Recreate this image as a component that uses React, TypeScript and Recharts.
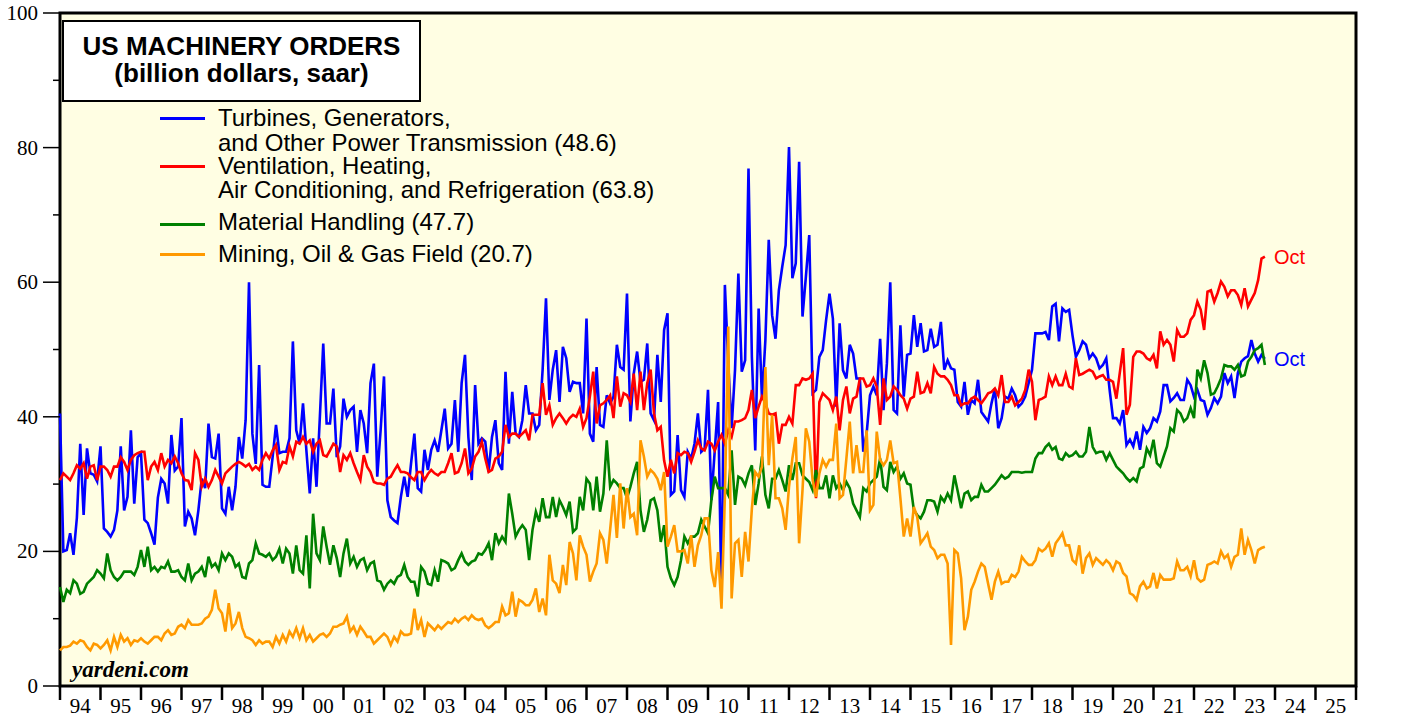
import { LineChart, Line, XAxis, YAxis, CartesianGrid, ReferenceArea, ReferenceDot } from "recharts";

const FIRST_YEAR = 1994;
const AXIS_YEARS = 32; // 1994 .. 2025

// monthly values, Jan 1994 .. Oct 2023, one row per year
const turbines = [
  [40.5, 20.0, 20.2, 22.7, 19.5, 25.0, 36.0, 25.4, 35.3, 31.6, 31.4, 30.4],
  [35.6, 23.4, 22.9, 22.2, 23.2, 26.1, 35.6, 26.1, 28.1, 38.0, 27.1, 34.0],
  [34.6, 24.7, 24.2, 22.7, 21.0, 28.0, 30.8, 30.1, 27.1, 37.3, 32.0, 32.6],
  [39.8, 23.7, 25.9, 24.9, 22.4, 26.1, 30.8, 29.4, 39.0, 34.0, 33.8, 37.5],
  [26.4, 25.6, 29.6, 26.1, 29.6, 37.0, 33.8, 39.5, 60.0, 37.5, 33.0, 47.7],
  [29.9, 29.6, 29.6, 34.0, 38.8, 34.6, 34.8, 34.8, 36.8, 51.2, 38.0, 36.0],
  [42.0, 35.0, 28.6, 36.8, 29.6, 40.0, 50.9, 39.0, 39.0, 44.2, 34.0, 35.6],
  [42.7, 40.0, 41.0, 41.5, 34.8, 41.0, 39.0, 34.6, 45.0, 47.9, 31.1, 38.0],
  [46.0, 27.6, 25.1, 24.6, 24.2, 28.1, 31.1, 28.1, 33.0, 37.5, 29.4, 28.9],
  [35.1, 32.1, 35.1, 36.5, 34.8, 38.0, 41.2, 35.3, 36.0, 42.5, 34.8, 45.0],
  [49.2, 37.0, 30.6, 44.7, 36.0, 36.8, 36.3, 31.8, 37.0, 39.5, 33.1, 32.1],
  [46.7, 36.0, 43.7, 37.5, 37.0, 39.5, 44.7, 40.5, 40.5, 38.0, 38.8, 47.0],
  [57.6, 42.5, 47.0, 49.9, 42.2, 50.4, 48.7, 43.7, 45.2, 45.0, 45.0, 40.5],
  [54.6, 37.5, 36.3, 47.4, 38.8, 38.5, 43.2, 42.0, 43.0, 50.7, 47.4, 47.0],
  [58.3, 39.3, 46.4, 49.7, 45.2, 45.5, 50.9, 40.5, 39.5, 49.2, 42.2, 52.9],
  [55.4, 28.4, 28.9, 37.3, 29.1, 28.1, 34.8, 33.8, 36.0, 40.5, 34.8, 35.3],
  [44.0, 27.6, 35.0, 42.2, 12.5, 59.6, 47.9, 38.3, 46.9, 61.3, 46.7, 48.4],
  [76.9, 48.9, 35.0, 56.1, 42.5, 51.4, 66.3, 55.1, 51.6, 58.8, 62.3, 65.5],
  [80.1, 60.6, 62.8, 77.9, 54.9, 60.8, 67.0, 43.5, 44.0, 48.9, 49.9, 54.4],
  [58.3, 54.6, 41.5, 53.9, 46.9, 45.7, 50.7, 49.4, 45.7, 45.7, 34.8, 37.5],
  [43.2, 44.5, 43.2, 51.6, 41.0, 47.9, 60.0, 41.0, 40.5, 53.6, 43.0, 49.2],
  [49.4, 55.1, 50.4, 53.9, 49.7, 49.9, 53.1, 50.4, 50.7, 54.1, 47.0, 48.4],
  [47.2, 47.0, 42.2, 41.5, 45.2, 40.3, 42.5, 42.0, 45.5, 40.7, 40.0, 39.3],
  [42.0, 44.2, 38.3, 39.8, 43.0, 42.7, 44.2, 43.2, 41.5, 42.0, 43.0, 45.0],
  [47.0, 52.4, 52.4, 52.4, 52.6, 51.4, 56.4, 56.8, 51.2, 56.1, 55.6, 55.9],
  [52.1, 48.9, 49.9, 51.2, 50.7, 48.7, 49.4, 48.7, 47.2, 47.7, 48.7, 44.0],
  [39.8, 39.8, 39.0, 41.0, 35.8, 36.6, 35.6, 37.8, 35.1, 38.5, 37.6, 38.3],
  [39.8, 39.3, 40.8, 44.7, 44.7, 42.3, 42.8, 43.5, 42.5, 42.5, 45.5, 44.7],
  [43.0, 44.0, 42.5, 42.3, 40.3, 41.3, 42.8, 42.0, 43.0, 46.5, 45.0, 46.0],
  [42.8, 46.5, 48.2, 48.7, 49.0, 51.4, 49.4, 48.2, 49.2, 48.6],
].flat();

const hvac = [
  [30.6, 31.6, 31.1, 30.6, 31.6, 32.8, 32.3, 33.1, 30.8, 32.6, 32.8, 30.6],
  [32.6, 32.6, 32.1, 31.1, 32.6, 32.6, 34.0, 33.3, 32.1, 33.6, 34.3, 34.6],
  [34.8, 34.8, 30.6, 32.6, 33.3, 32.1, 34.6, 32.6, 33.6, 33.1, 34.1, 33.1],
  [31.6, 30.6, 30.5, 29.1, 34.6, 33.6, 29.6, 30.8, 29.6, 30.6, 32.1, 31.1],
  [30.1, 31.6, 32.1, 32.6, 33.0, 33.3, 33.0, 32.6, 33.0, 32.1, 32.6, 32.1],
  [33.6, 34.6, 33.8, 35.0, 35.8, 32.1, 33.3, 33.1, 35.6, 34.1, 36.3, 36.0],
  [37.0, 36.0, 36.5, 34.8, 36.0, 36.5, 34.3, 34.1, 35.0, 36.0, 35.6, 31.8],
  [34.3, 33.6, 34.6, 33.1, 31.8, 30.6, 34.3, 32.6, 31.8, 30.3, 30.1, 30.1],
  [29.9, 30.8, 31.1, 32.0, 32.8, 31.8, 31.8, 31.6, 31.0, 30.6, 31.8, 31.8],
  [30.6, 31.5, 32.1, 31.6, 31.3, 31.8, 31.8, 33.1, 34.6, 31.6, 31.8, 33.1],
  [35.3, 31.6, 32.3, 34.1, 34.8, 36.3, 33.8, 31.8, 32.1, 33.8, 34.1, 34.8],
  [38.8, 37.0, 37.5, 37.5, 37.0, 37.5, 38.0, 36.5, 40.3, 40.3, 40.3, 45.0],
  [40.3, 41.7, 38.8, 39.8, 40.5, 39.8, 39.0, 39.8, 40.3, 40.0, 41.2, 38.5],
  [39.8, 43.0, 46.7, 39.0, 41.7, 42.0, 42.5, 43.2, 39.8, 46.0, 41.5, 43.5],
  [43.2, 42.2, 46.4, 41.0, 46.7, 41.0, 45.0, 47.0, 40.5, 38.0, 38.5, 33.5],
  [31.1, 33.6, 31.6, 34.6, 34.3, 34.8, 34.6, 33.3, 34.8, 36.5, 35.3, 35.0],
  [36.3, 36.0, 35.0, 36.3, 37.3, 36.0, 38.0, 37.0, 39.3, 39.3, 39.5, 39.8],
  [41.0, 44.0, 39.8, 41.5, 43.0, 42.0, 40.5, 40.3, 40.5, 36.0, 38.8, 38.8],
  [40.0, 39.0, 44.7, 44.7, 45.7, 45.5, 45.7, 46.4, 27.9, 42.2, 43.5, 43.0],
  [42.5, 41.0, 43.0, 38.0, 42.5, 44.5, 40.5, 42.7, 43.0, 45.7, 45.7, 44.5],
  [44.7, 45.7, 44.5, 38.8, 45.7, 42.5, 43.0, 44.5, 44.0, 43.2, 42.7, 41.2],
  [42.7, 43.0, 46.7, 43.5, 43.7, 45.0, 43.5, 47.4, 46.4, 46.0, 46.0, 45.5],
  [44.7, 43.2, 43.2, 41.7, 42.0, 42.0, 42.7, 43.0, 42.5, 42.0, 42.7, 43.5],
  [43.7, 44.2, 43.2, 46.2, 42.2, 42.2, 43.0, 41.7, 42.2, 42.7, 44.0, 47.0],
  [45.2, 39.5, 42.5, 42.7, 43.0, 46.0, 44.7, 46.0, 44.7, 44.7, 46.4, 44.5],
  [44.2, 48.7, 46.2, 46.4, 46.7, 47.0, 46.7, 45.7, 46.0, 46.2, 45.5, 45.5],
  [45.2, 42.7, 46.5, 50.2, 40.3, 41.8, 48.9, 49.7, 49.7, 49.4, 48.7, 48.4],
  [49.2, 47.2, 52.7, 50.7, 51.4, 50.7, 48.2, 52.9, 51.9, 51.9, 52.4, 54.4],
  [55.1, 57.1, 55.9, 52.9, 58.6, 58.8, 57.1, 58.4, 60.1, 59.3, 57.9, 58.8],
  [58.8, 58.1, 56.6, 59.1, 56.4, 57.4, 58.4, 60.3, 63.5, 63.8],
].flat();

const handling = [
  [14.7, 12.5, 14.3, 13.8, 15.7, 15.2, 13.7, 14.0, 15.2, 15.7, 16.2, 17.2],
  [16.7, 16.0, 19.7, 17.2, 16.2, 15.7, 16.2, 17.0, 17.0, 17.0, 16.5, 17.7],
  [20.2, 17.7, 20.7, 17.2, 17.7, 17.0, 17.7, 17.5, 18.5, 17.0, 17.0, 17.2],
  [16.2, 15.7, 18.2, 15.7, 16.7, 17.0, 17.7, 16.2, 19.2, 17.7, 18.2, 17.2],
  [19.7, 18.7, 19.7, 19.2, 17.7, 18.2, 16.2, 16.0, 18.2, 18.7, 21.2, 19.7],
  [19.5, 19.2, 19.7, 18.7, 19.2, 20.4, 18.2, 20.4, 19.7, 16.7, 20.9, 17.2],
  [16.7, 22.4, 14.5, 25.6, 19.7, 18.7, 23.7, 20.7, 18.0, 20.9, 19.0, 16.2],
  [19.7, 21.9, 18.2, 19.2, 17.7, 18.7, 19.0, 17.2, 18.2, 18.5, 15.7, 15.5],
  [14.3, 15.2, 15.7, 15.2, 16.2, 16.5, 18.0, 16.2, 15.5, 15.5, 13.3, 17.7],
  [17.0, 15.2, 15.0, 17.2, 15.5, 18.7, 18.5, 18.2, 17.2, 17.5, 18.7, 19.7],
  [18.5, 18.0, 18.5, 18.7, 19.7, 19.5, 20.2, 21.2, 18.7, 22.7, 21.2, 22.2],
  [21.4, 28.6, 25.6, 22.2, 23.2, 23.9, 23.2, 18.7, 23.2, 25.9, 24.4, 27.9],
  [25.1, 25.1, 28.1, 25.1, 27.6, 26.6, 25.4, 27.4, 22.9, 23.4, 28.1, 26.1],
  [30.8, 30.1, 26.1, 31.1, 25.9, 28.6, 36.5, 29.6, 30.6, 30.1, 29.4, 29.4],
  [27.9, 29.6, 31.6, 33.3, 26.1, 22.9, 24.7, 27.6, 27.9, 26.1, 21.4, 23.9],
  [17.7, 16.0, 15.0, 16.2, 18.7, 22.2, 21.2, 22.2, 22.2, 22.7, 24.7, 23.7],
  [22.7, 27.6, 31.1, 29.4, 29.4, 29.4, 28.4, 35.0, 26.9, 31.1, 30.8, 29.8],
  [31.6, 32.8, 26.9, 30.1, 34.1, 28.4, 26.4, 30.8, 30.8, 32.1, 30.6, 28.9],
  [32.8, 30.6, 33.1, 33.1, 31.3, 30.8, 30.3, 29.1, 32.1, 29.4, 29.4, 31.3],
  [27.9, 31.3, 29.4, 30.1, 29.1, 30.3, 29.4, 27.1, 26.1, 25.1, 29.4, 28.9],
  [30.1, 30.6, 31.1, 33.8, 29.6, 29.1, 33.3, 31.8, 32.6, 30.8, 31.6, 30.1],
  [29.9, 26.1, 25.4, 24.9, 25.9, 27.6, 27.6, 27.4, 25.9, 28.1, 27.4, 28.6],
  [27.6, 31.3, 28.9, 26.4, 28.6, 28.9, 27.6, 28.1, 28.1, 29.9, 28.9, 28.9],
  [29.4, 29.9, 30.6, 31.3, 30.8, 31.1, 31.8, 31.8, 31.8, 31.7, 31.8, 31.8],
  [31.8, 33.8, 34.6, 34.6, 35.5, 36.0, 35.1, 35.5, 33.8, 33.6, 34.6, 34.1],
  [34.3, 34.8, 34.1, 34.1, 34.8, 38.5, 35.5, 34.6, 34.8, 34.8, 33.6, 34.6],
  [33.6, 32.6, 32.1, 31.6, 30.9, 30.4, 30.9, 30.4, 32.3, 32.6, 35.3, 34.3],
  [36.6, 33.1, 32.6, 34.1, 35.6, 38.3, 37.8, 41.0, 40.5, 39.3, 39.8, 41.3],
  [39.8, 47.0, 45.7, 48.4, 46.5, 43.3, 43.5, 44.5, 45.7, 47.7, 47.5, 47.5],
  [47.0, 47.7, 46.0, 46.2, 48.2, 48.9, 49.9, 50.2, 50.7, 47.7],
].flat();

const mining = [
  [5.3, 5.8, 5.8, 6.0, 6.6, 6.3, 6.8, 6.6, 5.8, 5.3, 6.3, 6.1],
  [5.6, 6.1, 6.8, 5.3, 7.3, 5.8, 7.6, 6.6, 7.1, 6.1, 6.8, 6.6],
  [7.1, 6.6, 6.3, 6.8, 7.3, 7.3, 6.8, 7.8, 8.3, 7.6, 7.8, 8.8],
  [9.1, 8.6, 9.8, 9.1, 9.1, 9.1, 9.3, 10.0, 10.3, 11.3, 14.3, 11.5],
  [10.8, 8.1, 12.3, 8.6, 9.3, 11.0, 8.6, 7.3, 7.1, 6.8, 6.1, 6.8],
  [6.3, 6.6, 6.6, 5.8, 7.3, 6.3, 7.6, 6.6, 8.1, 7.3, 8.6, 7.1],
  [8.6, 6.8, 7.6, 6.6, 7.1, 7.6, 7.8, 7.3, 7.8, 8.8, 8.8, 9.1],
  [9.3, 10.3, 8.1, 8.8, 7.6, 8.8, 8.1, 7.3, 7.3, 6.3, 6.8, 7.3],
  [7.8, 7.3, 6.1, 7.3, 6.6, 8.1, 7.6, 7.6, 7.8, 11.5, 8.3, 9.8],
  [7.3, 9.3, 8.8, 8.3, 9.0, 8.5, 9.0, 9.5, 9.3, 10.0, 9.5, 10.0],
  [10.3, 9.8, 10.5, 10.0, 9.8, 10.0, 9.0, 8.6, 9.0, 9.5, 9.5, 11.8],
  [10.5, 10.8, 14.0, 10.3, 12.8, 12.5, 12.0, 12.0, 12.8, 14.5, 11.0, 13.0],
  [10.5, 19.5, 15.7, 15.2, 13.8, 18.0, 15.0, 21.4, 19.7, 15.7, 22.4, 20.7],
  [19.5, 15.5, 17.0, 18.2, 22.7, 21.7, 18.2, 23.2, 28.4, 22.0, 30.1, 23.4],
  [29.4, 25.1, 25.6, 22.4, 36.5, 34.1, 31.1, 32.1, 31.6, 30.8, 29.1, 31.8],
  [20.7, 22.2, 23.9, 20.0, 20.0, 20.2, 18.2, 22.4, 17.7, 20.9, 22.4, 24.9],
  [24.9, 17.2, 14.7, 19.9, 11.5, 28.1, 53.4, 13.0, 21.2, 21.7, 16.2, 22.9],
  [18.5, 26.4, 31.8, 31.1, 32.6, 47.4, 32.8, 40.3, 27.9, 27.9, 26.4, 23.2],
  [29.6, 33.8, 37.0, 21.2, 29.1, 38.3, 36.3, 30.6, 28.1, 31.6, 33.6, 32.6],
  [33.6, 33.6, 39.0, 27.9, 28.4, 33.8, 39.3, 31.6, 35.8, 31.8, 31.8, 38.0],
  [26.1, 26.9, 37.8, 33.6, 32.8, 33.6, 36.5, 33.1, 33.3, 27.9, 22.2, 24.9],
  [22.2, 26.6, 25.1, 21.2, 21.9, 22.7, 20.7, 20.2, 19.0, 19.5, 19.5, 18.2],
  [6.1, 20.2, 19.7, 16.0, 8.3, 10.3, 14.3, 15.5, 17.0, 18.2, 17.7, 15.2],
  [12.8, 15.5, 17.0, 15.2, 15.5, 15.5, 16.5, 16.2, 17.0, 19.2, 18.5, 18.0],
  [18.0, 18.7, 20.4, 20.0, 20.4, 21.2, 19.2, 21.2, 21.9, 22.7, 20.9, 20.9],
  [18.7, 18.2, 20.9, 16.7, 19.0, 19.7, 18.0, 19.0, 18.5, 18.0, 18.7, 18.2],
  [17.2, 18.5, 18.2, 16.8, 16.3, 13.8, 13.5, 12.8, 14.8, 15.5, 14.5, 14.8],
  [16.8, 14.5, 16.5, 15.8, 15.8, 15.8, 16.0, 18.5, 17.2, 17.2, 17.7, 16.3],
  [18.7, 16.0, 15.5, 15.8, 18.0, 18.2, 18.5, 18.2, 20.0, 19.0, 19.5, 17.7],
  [19.2, 19.5, 23.4, 19.5, 21.7, 20.2, 18.2, 20.2, 20.5, 20.7],
].flat();

const series = [
  { key: "turbines", color: "#0000ff", values: turbines, lines: ["Turbines, Generators,", "and Other Power Transmission"] },
  { key: "hvac", color: "#ff0000", values: hvac, lines: ["Ventilation, Heating,", "Air Conditioning, and Refrigeration"] },
  { key: "handling", color: "#008000", values: handling, lines: ["Material Handling"] },
  { key: "mining", color: "#ff9900", values: mining, lines: ["Mining, Oil & Gas Field"] },
];

const data = turbines.map((v, i) => ({
  m: i,
  turbines: v,
  hvac: hvac[i],
  handling: handling[i],
  mining: mining[i],
}));
const lastIdx = data.length - 1;

const yearTicks = Array.from({ length: AXIS_YEARS + 1 }, (_, k) => k * 12);
const valueTicks = [0, 10, 20, 30, 40, 50, 60, 70, 80, 90, 100];

const W = 1426;
const H = 719;
const LEFT = 60;
const RIGHT = 70;
const TOP = 13;
const BOTTOM = 33;
const YEAR_PX = (W - LEFT - RIGHT) / AXIS_YEARS;

const sans = "'Liberation Sans', Arial, sans-serif";
const serif = "'Liberation Serif', 'Times New Roman', serif";
const BG = "#fffee3";

const XTick = ({ x, y, payload }: any) => {
  const yr = FIRST_YEAR + payload.value / 12;
  return (
    <g>
      <line x1={x} x2={x} y1={y} y2={y + 14} stroke="#000" strokeWidth={2.5} />
      {yr < FIRST_YEAR + AXIS_YEARS && (
        <text x={x + YEAR_PX / 2} y={y + 27} textAnchor="middle" fontFamily={serif} fontSize={21} fill="#000">
          {String(yr % 100).padStart(2, "0")}
        </text>
      )}
    </g>
  );
};

const LeftTick = ({ x, y, payload }: any) => {
  const major = payload.value % 20 === 0;
  return (
    <g>
      <line x1={x - (major ? 17 : 7)} x2={x} y1={y} y2={y} stroke="#000" strokeWidth={1.5} />
      {major && (
        <text x={x - 22} y={y + 7} textAnchor="end" fontFamily={serif} fontSize={21} fill="#000">
          {payload.value}
        </text>
      )}
    </g>
  );
};

const RightTick = ({ x, y, payload }: any) => {
  const major = payload.value % 20 === 0;
  return (
    <g>
      <line x1={x} x2={x + (major ? 14 : 8)} y1={y} y2={y} stroke="#000" strokeWidth={1.5} />
      {major && (
        <text x={x + 22} y={y + 7} textAnchor="start" fontFamily={serif} fontSize={21} fill="#000">
          {payload.value}
        </text>
      )}
    </g>
  );
};

// legend row centres (px from top of page)
const legendRows = [
  { line: 118, text: [118, 143] },
  { line: 166, text: [166, 190] },
  { line: 224, text: [222] },
  { line: 254, text: [254] },
];

export default function App() {
  return (
    <div style={{ position: "absolute", left: 0, top: 0, width: W, height: H, background: "#fff" }}>
      <LineChart width={W} height={H} data={data} margin={{ top: TOP, right: 0, bottom: 0, left: 0 }}>
        <CartesianGrid horizontal={false} vertical={false} fill={BG} yAxisId="l" />
        <XAxis
          dataKey="m"
          type="number"
          domain={[0, AXIS_YEARS * 12]}
          ticks={yearTicks}
          interval={0}
          height={BOTTOM}
          tickSize={0}
          tickMargin={0}
          axisLine={false}
          tickLine={false}
          tick={<XTick />}
        />
        <YAxis
          yAxisId="l"
          domain={[0, 100]}
          ticks={valueTicks}
          interval={0}
          width={LEFT}
          tickSize={0}
          tickMargin={0}
          axisLine={false}
          tickLine={false}
          tick={<LeftTick />}
        />
        <YAxis
          yAxisId="r"
          orientation="right"
          domain={[0, 100]}
          ticks={valueTicks}
          interval={0}
          width={RIGHT}
          tickSize={0}
          tickMargin={0}
          axisLine={false}
          tickLine={false}
          tick={<RightTick />}
        />
        {series.map((s) => (
          <Line
            key={s.key}
            yAxisId="l"
            type="linear"
            dataKey={s.key}
            stroke={s.color}
            strokeWidth={2.6}
            dot={false}
            activeDot={false}
            isAnimationActive={false}
          />
        ))}
        <ReferenceArea
          yAxisId="l"
          x1={0}
          x2={AXIS_YEARS * 12}
          y1={0}
          y2={100}
          fill="none"
          stroke="#000"
          strokeWidth={3}
        />
        <ReferenceDot
          yAxisId="l"
          x={lastIdx}
          y={hvac[lastIdx]}
          r={0}
          fill="none"
          stroke="none"
          label={{ value: "Oct", position: "right", offset: 9, fill: "#ff0000", fontSize: 20, fontFamily: sans }}
        />
        <ReferenceDot
          yAxisId="l"
          x={lastIdx}
          y={turbines[lastIdx]}
          r={0}
          fill="none"
          stroke="none"
          label={{ value: "Oct", position: "right", offset: 9, fill: "#0000ff", fontSize: 20, fontFamily: sans }}
        />
      </LineChart>

      <div
        style={{
          position: "absolute",
          left: 62,
          top: 20,
          width: 355,
          height: 67,
          border: "2px solid #000",
          background: "#fff",
          fontFamily: sans,
          fontWeight: "bold",
          fontSize: 26,
          lineHeight: "27px",
          textAlign: "center",
          paddingTop: 11,
          boxSizing: "content-box",
        }}
      >
        <div>US MACHINERY ORDERS</div>
        <div>(billion dollars, saar)</div>
      </div>

      {series.map((s, i) => {
        const row = legendRows[i];
        const last = s.values[s.values.length - 1].toFixed(1);
        return (
          <div key={s.key}>
            <div style={{ position: "absolute", left: 160, top: row.line - 1.5, width: 45, height: 3, background: s.color }} />
            {s.lines.map((t, j) => (
              <div
                key={j}
                style={{
                  position: "absolute",
                  left: 218,
                  top: row.text[j] - 11,
                  fontFamily: sans,
                  fontSize: 24,
                  lineHeight: "22px",
                  whiteSpace: "nowrap",
                  color: "#000",
                }}
              >
                {j === s.lines.length - 1 ? `${t} (${last})` : t}
              </div>
            ))}
          </div>
        );
      })}

      <div
        style={{
          position: "absolute",
          left: 72,
          top: 657,
          fontFamily: serif,
          fontWeight: "bold",
          fontStyle: "italic",
          fontSize: 23,
          lineHeight: "25px",
          color: "#000",
        }}
      >
        yardeni.com
      </div>
    </div>
  );
}
